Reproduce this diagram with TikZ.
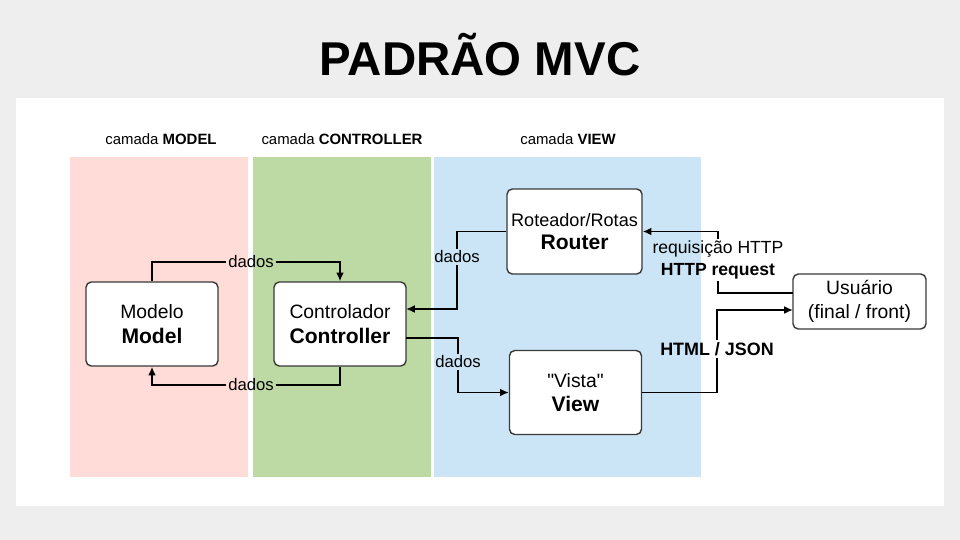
\documentclass[tikz,border=0pt]{standalone}
\usepackage{fontspec}
\setmainfont{Liberation Sans}[Ligatures=TeXOff]
\usetikzlibrary{arrows.meta,positioning}
\definecolor{fundo}{HTML}{EEEEEE}
\definecolor{rosa}{HTML}{FFDCD7}
\definecolor{verde}{HTML}{BDDAA5}
\definecolor{azul}{HTML}{CCE5F6}
\definecolor{borda}{HTML}{3A3A3A}
\tikzset{
  caixa/.style={draw=borda,line width=0.8pt,fill=white,rounded corners=3pt,align=center,
    font=\fontsize{11}{14}\selectfont,minimum width=2.64cm,minimum height=1.68cm},
  dado/.style={font=\fontsize{9.5}{11}\selectfont,inner sep=1pt},
  camada/.style={font=\fontsize{8.5}{10}\selectfont},
  fio/.style={line width=1pt,black},
}
\begin{document}
\begin{tikzpicture}[x=0.02cm,y=-0.02cm,line join=miter,>={Latex[length=5pt,width=4.5pt]}]
  \useasboundingbox (0,0) rectangle (960,540);
  \fill[fundo] (0,0) rectangle (960,540);
  \fill[white] (16,98) rectangle (944,506);
  % faixas das camadas
  \fill[rosa] (70,157) rectangle (248,477);
  \fill[verde] (253,157) rectangle (431,477);
  \fill[azul] (434,157) rectangle (701,477);
  \node[font=\fontsize{27}{32}\bfseries] (titulo) at (480,55) {PADRÃO MVC};
  \node[camada] (cm) at (161,139) {camada \textbf{MODEL}};
  \node[camada] (cc) at (342,139) {camada \textbf{CONTROLLER}};
  \node[camada] (cv) at (568,139) {camada \textbf{VIEW}};
  % caixas
  \node[caixa] (modelo) at (152,324) {Modelo\\{\fontsize{12}{14}\bfseries Model}};
  \node[caixa] (ctrl) at (340,324) {Controlador\\{\fontsize{12}{14}\bfseries Controller}};
  \node[caixa,minimum width=2.7cm,minimum height=1.7cm,inner xsep=2pt,font=\fontsize{10.3}{13}\selectfont] (router) at (574.5,231.5) {Roteador/Rotas\\{\fontsize{12}{14}\bfseries Router}};
  \node[caixa] (vista) at (575.5,392.5) {"Vista"\\{\fontsize{12}{14}\bfseries View}};
  \node[caixa,minimum width=2.66cm,minimum height=1.1cm] (usr) at (859.5,301.5) {Usuário\\(final / front)};
  % rotulos
  \node[dado] (d1) at (251,262) {dados};
  \node[dado] (d2) at (251,385) {dados};
  \node[dado] (d3) at (457,257) {dados};
  \node[dado] (d4) at (458,362) {dados};
  \node[dado,align=center,font=\fontsize{10}{12}\selectfont] (req) at (718,260) {requisição HTTP\\\textbf{HTTP request}};
  \node[dado,font=\fontsize{10.2}{12}\bfseries] (html) at (717,349) {HTML / JSON};
  \coordinate (cin) at (406,309);
  \coordinate (cout) at (406,338);
  \coordinate (usaida) at (793,293);
  \coordinate (uentra) at (793,310);
  % conexoes
  \draw[fio] (modelo.north) |- (d1.west);
  \draw[fio,->] (d1.east) -| (ctrl.north);
  \draw[fio] (ctrl.south) |- (d2.east);
  \draw[fio,->] (d2.west) -| (modelo.south);
  \draw[fio] (router.west) -| (d3.north);
  \draw[fio,->] (d3.south) |- (cin);
  \draw[fio] (cout) -| (d4.north);
  \draw[fio,->] (d4.south) |- (vista.west);
  \draw[fio] (usaida) -| (req.south);
  \draw[fio,->] (req.north) |- (router.east);
  \draw[fio] (vista.east) -| (html.south);
  \draw[fio,->] (html.north) |- (uentra);
\end{tikzpicture}
\end{document}
